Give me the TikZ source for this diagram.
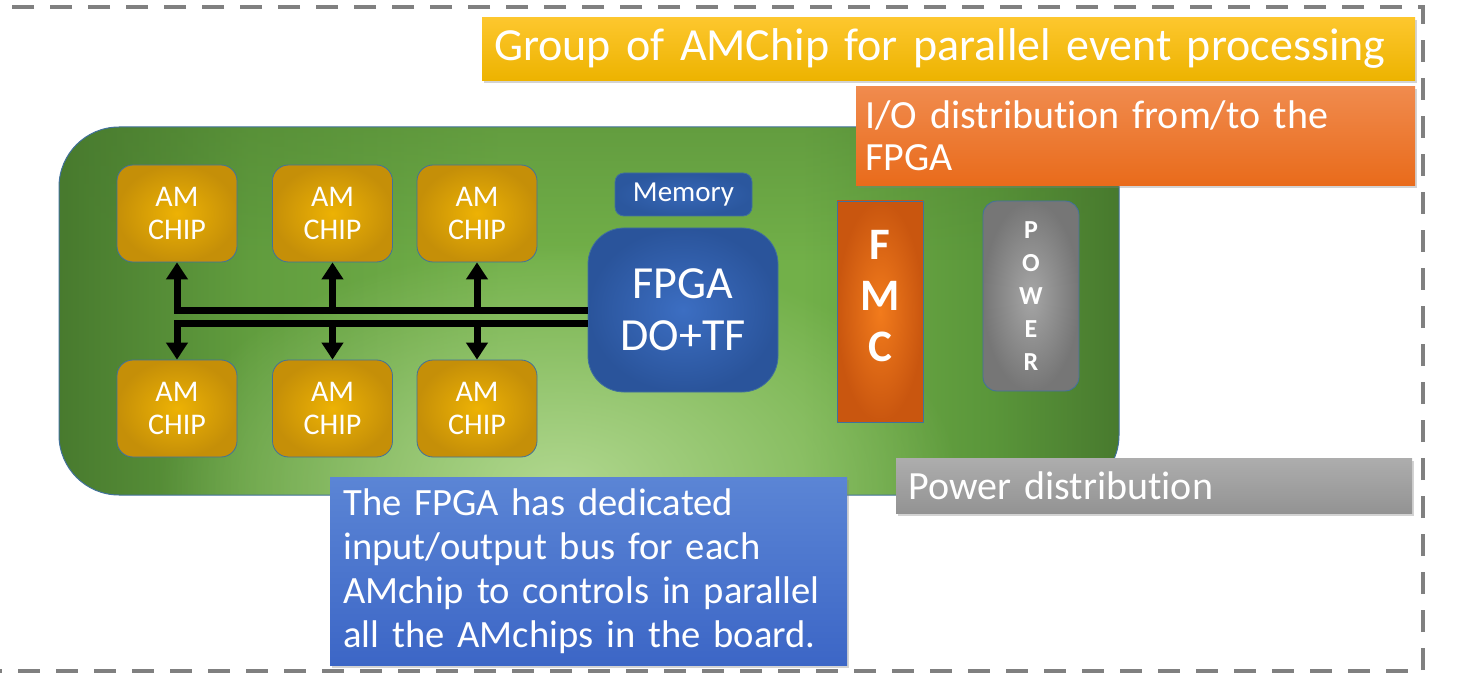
\documentclass[tikz,border=0pt]{standalone}
\usepackage{fontspec}
\setmainfont{Carlito}[Ligatures=NoCommon]
\usetikzlibrary{arrows.meta,shadows,fadings}

% palette
\definecolor{framegray}{HTML}{808080}
\definecolor{edgeblue}{HTML}{41719C}
\definecolor{gdark}{HTML}{487A2E}
\definecolor{gmid}{HTML}{619D3E}
\definecolor{glite}{HTML}{72B049}
\definecolor{gmidb}{HTML}{5A963A}
\definecolor{glow}{HTML}{B0D78E}
\definecolor{chipin}{HTML}{EDB204}
\definecolor{chipout}{HTML}{C58F08}
\definecolor{fpgain}{HTML}{3C6EC2}
\definecolor{fpgaout}{HTML}{2A549B}
\definecolor{memin}{HTML}{3767B6}
\definecolor{memout}{HTML}{2B579E}
\definecolor{fmcin}{HTML}{F27B1C}
\definecolor{fmcout}{HTML}{C9560F}
\definecolor{pwrin}{HTML}{A6A6A6}
\definecolor{pwrout}{HTML}{767676}
\definecolor{titletop}{HTML}{FDC72E}
\definecolor{titlebot}{HTML}{EDB300}
\definecolor{iotop}{HTML}{F08B4E}
\definecolor{iobot}{HTML}{E96B1B}
\definecolor{pdtop}{HTML}{ADADAD}
\definecolor{pdbot}{HTML}{939393}
\definecolor{notetop}{HTML}{5B85D5}
\definecolor{notebot}{HTML}{3C66C6}

% board colouring: dark at both ends, brighter in the middle
\pgfdeclarehorizontalshading{boardh}{100bp}{color(0bp)=(gdark); color(25bp)=(gdark);
  color(34bp)=(gmid); color(46bp)=(glite); color(60bp)=(glite); color(69bp)=(gmidb);
  color(75bp)=(gdark); color(100bp)=(gdark)}
\tikzfading[name=glowfade, inner color=transparent!0, outer color=transparent!100]
\tikzfading[name=topfade, top color=transparent!0, bottom color=transparent!100]

\tikzset{
  x=1pt, y=-1pt,
  frame/.style={draw=framegray, line width=4.5pt, dash pattern=on 22pt off 16pt},
  boardedge/.style={draw=edgeblue, line width=1pt, rounded corners=60pt},
  chip/.style={rounded corners=16pt, minimum width=120pt, minimum height=97pt,
    inner color=chipin, outer color=chipout, draw=edgeblue, line width=0.8pt,
    text=white, align=center, font=\fontsize{30}{33}\selectfont},
  memorybox/.style={rounded corners=9pt, minimum width=137pt, minimum height=43pt,
    inner color=memin, outer color=memout, draw=edgeblue, line width=0.8pt,
    text=white, font=\fontsize{29}{33}\selectfont},
  fpgabox/.style={rounded corners=36pt, minimum width=190pt, minimum height=164pt,
    inner color=fpgain, outer color=fpgaout, draw=edgeblue, line width=0.8pt,
    text=white, align=center, font=\fontsize{46}{52}\selectfont},
  fmcbox/.style={minimum width=86pt, minimum height=221pt,
    inner color=fmcin, outer color=fmcout, draw=edgeblue, line width=0.8pt},
  fmctext/.style={text=white, align=center, font=\bfseries\fontsize{45}{51}\selectfont},
  powerbox/.style={rounded corners=14pt, minimum width=96pt, minimum height=190pt,
    inner color=pwrin, outer color=pwrout, draw=edgeblue, line width=0.8pt,
    text=white, align=center, font=\bfseries\fontsize{26}{33}\selectfont},
  bus/.style={line width=7pt, draw=black, line join=miter},
  bustip/.style={-{Triangle[length=17pt,width=21pt]}},
  callout/.style={anchor=north west, inner xsep=12pt, inner ysep=0pt, align=left,
    text=white, drop shadow={shadow xshift=2pt, shadow yshift=-3pt, opacity=.35}},
}

\begin{document}
\begin{tikzpicture}
\useasboundingbox (0,0) rectangle (1464,676);

% dashed outline of the group
\draw[frame] (-40,7) rectangle (1423,671);

% the board
\begin{scope}
  \clip[rounded corners=60pt] (59,127) rectangle (1119,495);
  \shade[shading=boardh] (59,127) rectangle (1119,495);
  \fill[gdark, opacity=.35, path fading=topfade] (59,127) rectangle (1119,260);
  \fill[glow, path fading=glowfade] (560,485) ellipse (400 and 240);
\end{scope}
\draw[boardedge] (59,127) rectangle (1119,495);

% associative memory chips
\node[chip] (c1) at (177,213.5) {AM\\CHIP};
\node[chip] (c2) at (332.5,213.5) {AM\\CHIP};
\node[chip] (c3) at (477,213.5) {AM\\CHIP};
\node[chip] (c4) at (177,408.5) {AM\\CHIP};
\node[chip] (c5) at (332.5,408.5) {AM\\CHIP};
\node[chip] (c6) at (477,408.5) {AM\\CHIP};

% FPGA, memory, mezzanine connector and power block
\node[memorybox] (mem) at (683.5,194.5) {Memory};
\node[fpgabox] (fpga) at (683,310) {FPGA\\DO+TF};
\node[fmcbox] (fmc) at (880,311.5) {};
\node[fmctext] (fmclabel) at (880,296) {F\\M\\C};
\node[powerbox] (pwr) at (1031,296) {P\\O\\W\\E\\R};

% bus from the FPGA to the chips
\coordinate (u1) at (c1.south |- 0,310);
\coordinate (u2) at (c2.south |- 0,313);
\coordinate (u3) at (c3.south |- 0,313);
\coordinate (l1) at (c4.north |- 0,323);
\coordinate (l2) at (c5.north |- 0,320);
\coordinate (l3) at (c6.north |- 0,320);
\draw[bus, bustip] (fpga.west |- u1) -- (u1) -- (c1.south);
\draw[bus, bustip] (u2) -- (c2.south);
\draw[bus, bustip] (u3) -- (c3.south);
\draw[bus, bustip] (fpga.west |- l1) -- (l1) -- (c4.north);
\draw[bus, bustip] (l2) -- (c5.north);
\draw[bus, bustip] (l3) -- (c6.north);

% callouts
\node[callout, top color=titletop, bottom color=titlebot,
      minimum width=933pt, minimum height=63pt, text width=909pt,
      font=\fontsize{46}{52}\selectfont] (title) at (482,17)
  {Group of AMChip for parallel event processing};
\node[callout, top color=iotop, bottom color=iobot, inner xsep=9pt,
      minimum width=559pt, minimum height=99pt, text width=541pt,
      font=\fontsize{40}{42}\selectfont] (io) at (856,86)
  {I/O distribution from/to the\\FPGA};
\node[callout, top color=pdtop, bottom color=pdbot,
      minimum width=516pt, minimum height=55pt, text width=492pt,
      font=\fontsize{40}{44}\selectfont] (pd) at (896,458)
  {Power distribution};
\node[callout, top color=notetop, bottom color=notebot,
      minimum width=517pt, minimum height=188pt, text width=505pt,
      inner xsep=6pt, font=\fontsize{38.6}{44}\selectfont] (note) at (330,477)
  {\hspace*{7pt}The FPGA has dedicated\\\hspace*{7pt}input/output bus for each\\\hspace*{7pt}AMchip to controls in parallel\\\hspace*{7pt}all the AMchips in the board.};
\end{tikzpicture}
\end{document}
